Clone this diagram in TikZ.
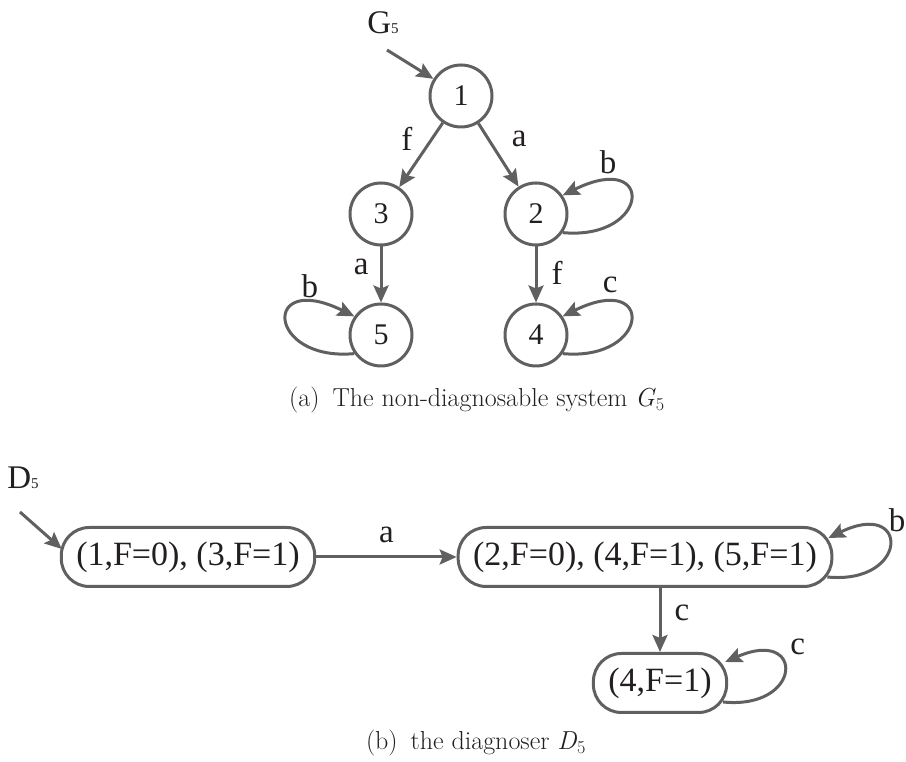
\documentclass[tikz,border=0pt]{standalone}
\usepackage{fontspec}
\newfontfamily\timesfont{Liberation Serif}
\usepackage{tikz}
\usetikzlibrary{arrows.meta, calc}
\definecolor{edgegray}{RGB}{96,96,96}
\definecolor{inkblack}{RGB}{35,31,32}

\begin{document}
\begin{tikzpicture}[x=1pt, y=1pt,
    state/.style={circle, draw=edgegray, line width=3pt, minimum size=62pt, inner sep=0pt, text=inkblack, font=\timesfont\fontsize{30}{30}\selectfont},
    dstate/.style={rectangle, rounded corners=28pt, draw=edgegray, line width=3pt, minimum height=59pt, inner xsep=15pt, inner ysep=0pt, text=inkblack, font=\timesfont\fontsize{34}{34}\selectfont},
    trans/.style={-{Stealth[length=17pt, width=15pt, inset=3pt]}, edgegray, line width=3pt},
    evt/.style={inner sep=1pt, text=inkblack, font=\timesfont\fontsize{33}{33}\selectfont},
    autname/.style={inner sep=0pt, text=inkblack, font=\timesfont\fontsize{33}{33}\selectfont},
    capt/.style={inner sep=0pt, text=inkblack, font=\fontsize{26}{26}\selectfont}]
  \useasboundingbox (0,0) rectangle (906,762);
  % automaton G5
  \node[autname] (g5name) at (383,739) {G{\fontsize{15}{15}\selectfont 5}};
  \coordinate (g5in) at (387,712);
  \node[state] (n1) at (461,666) {1};
  \node[state] (n3) at (381,548) {3};
  \node[state] (n2) at (536,548) {2};
  \node[state] (n5) at (381,427) {5};
  \node[state] (n4) at (536,427) {4};
  \draw[trans] (g5in) -- (n1);
  \draw[trans] (n1) -- node[evt, pos=0.25, left=17pt] {f} (n3);
  \draw[trans] (n1) -- node[evt, pos=0.25, right=21pt] {a} (n2);
  \draw[trans] (n3) -- node[evt, pos=0.37, left=10pt] {a} (n5);
  \draw[trans] (n2) -- node[evt, pos=0.47, right=13pt] {f} (n4);
  % self loops
  \draw[trans] (n2.-35) .. controls +(88,-8) and +(93,46) .. node[evt, pos=0.75, above=7pt, xshift=-6pt] {b} (n2.35);
  \draw[trans] (n4.-35) .. controls +(88,-8) and +(93,46) .. node[evt, pos=0.75, above=9pt, xshift=-4pt] {c} (n4.35);
  \draw[trans] (n5.215) .. controls +(-88,-8) and +(-93,46) .. node[evt, pos=0.75, above=4pt, xshift=7pt] {b} (n5.145);
  \node[capt] (capa) at (477,362) {(a)\enspace The non-diagnosable system \textit{G}\textsubscript{5}};

  % diagnoser D5
  \node[autname] (d5name) at (23,284) {D{\fontsize{15}{15}\selectfont 5}};
  \coordinate (d5in) at (20,250);
  \node[dstate] (d1) at (188,205) {(1,F=0), (3,F=1)};
  \node[dstate] (d2) at (645,205) {(2,F=0), (4,F=1), (5,F=1)};
  \node[dstate] (d3) at (660,79) {(4,F=1)};
  \draw[trans] (d5in) -- ($(d1.west)+(2,8)$);
  \draw[trans] (d1) -- node[evt, pos=0.5, above=12pt] {a} (d2);
  \draw[trans] (d3.north |- d2.south) -- node[evt, pos=0.39, right=12pt] {c} (d3.north);
  \draw[trans] ($(d2.east)+(-6,-20)$) .. controls +(82,-8) and +(82,40) .. node[evt, pos=0.75, right=12pt, yshift=8pt] {b} ($(d2.east)+(-5,19)$);
  \draw[trans] ($(d3.east)+(-5,-19)$) .. controls +(80,-8) and +(80,35) .. node[evt, pos=0.75, right=18pt, yshift=8pt] {c} ($(d3.east)+(-3,21)$);
  \node[capt] (captb) at (476,19) {(b)\enspace the diagnoser \textit{D}\textsubscript{5}};
\end{tikzpicture}
\end{document}
